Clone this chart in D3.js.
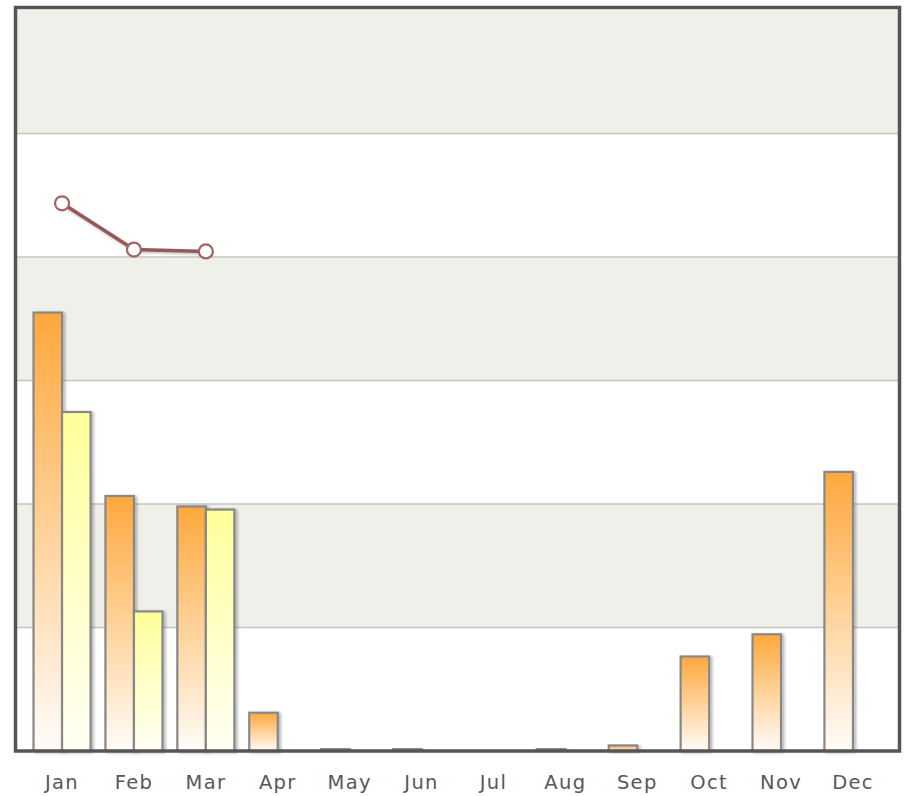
<!DOCTYPE html>
<html>
<head>
<meta charset="utf-8">
<script src="https://cdn.jsdelivr.net/npm/d3@7"></script>
<style>
  html, body { margin: 0; padding: 0; background: #ffffff; }
  svg { display: block; }
</style>
</head>
<body>
<svg id="chart" width="907" height="796"></svg>
<script>
// ---- data ----
const months = ["Jan","Feb","Mar","Apr","May","Jun","Jul","Aug","Sep","Oct","Nov","Dec"];
const seriesA = [71.0, 41.3, 39.6, 6.2, 0.3, 0.3, null, 0.3, 0.9, 15.3, 18.9, 45.2];   // orange bars
const seriesB = [54.9, 22.6, 39.1, null, null, null, null, null, null, null, null, null]; // yellow bars
const lineValues = [88.7, 81.2, 80.9, null, null, null, null, null, null, null, null, null];
const yTicks = [0, 20, 40, 60, 80, 100, 120];

// ---- layout ----
const svg = d3.select("#chart");
const pLeft = 16, pRight = 899, pTop = 10, pBottom = 751;

const x = d3.scaleBand().domain(months).range([pLeft, pRight]).paddingInner(0.207).paddingOuter(0.244);
const xSub = d3.scaleBand().domain(["a","b"]).range([0, x.bandwidth()]);
const y = d3.scaleLinear().domain([0, 120]).range([pBottom, pTop]);

const defs = svg.append("defs");
const gA = defs.append("linearGradient").attr("id","gradA").attr("x1",0).attr("y1",0).attr("x2",0).attr("y2",1);
gA.append("stop").attr("offset","0%").attr("stop-color","#ffa83c");
gA.append("stop").attr("offset","100%").attr("stop-color","#fffcf8");
const gB = defs.append("linearGradient").attr("id","gradB").attr("x1",0).attr("y1",0).attr("x2",0).attr("y2",1);
gB.append("stop").attr("offset","0%").attr("stop-color","#ffff99");
gB.append("stop").attr("offset","100%").attr("stop-color","#fffff4");
const sh = defs.append("filter").attr("id","shadow").attr("x","-20%").attr("y","-20%").attr("width","160%").attr("height","160%");
sh.append("feDropShadow").attr("dx",2).attr("dy",1).attr("stdDeviation",1.6).attr("flood-color","#000").attr("flood-opacity",0.3);
const sh2 = defs.append("filter").attr("id","lshadow").attr("x","-20%").attr("y","-50%").attr("width","140%").attr("height","200%");
sh2.append("feDropShadow").attr("dx",1).attr("dy",1.5).attr("stdDeviation",1.2).attr("flood-color","#000").attr("flood-opacity",0.25);

// background bands
const bands = d3.pairs(yTicks);
svg.append("g").selectAll("rect").data(bands).join("rect")
  .attr("x", pLeft).attr("width", pRight - pLeft)
  .attr("y", d => y(d[1])).attr("height", d => y(d[0]) - y(d[1]))
  .attr("fill", (d, i) => i % 2 === 0 ? "#ffffff" : "#f0f0ea");

// gridlines
svg.append("g").selectAll("line").data(yTicks.slice(1, -1)).join("line")
  .attr("x1", pLeft).attr("x2", pRight)
  .attr("y1", d => y(d)).attr("y2", d => y(d))
  .attr("stroke", "#c6c6be").attr("stroke-width", 1.5);

// bars
const barData = [];
months.forEach((m, i) => {
  if (seriesA[i] != null) barData.push({m, k:"a", v: seriesA[i]});
  if (seriesB[i] != null) barData.push({m, k:"b", v: seriesB[i]});
});
svg.append("g").selectAll("rect").data(barData).join("rect")
  .attr("x", d => x(d.m) + xSub(d.k))
  .attr("width", xSub.bandwidth())
  .attr("y", d => y(d.v))
  .attr("height", d => y(0) - y(d.v))
  .attr("fill", d => d.k === "a" ? "url(#gradA)" : "url(#gradB)")
  .attr("stroke", "#888888").attr("stroke-width", 2.2)
  .attr("filter", "url(#shadow)");

// line
const linePts = months.map((m, i) => ({m, v: lineValues[i]})).filter(d => d.v != null);
const cx = d => x(d.m) + x.bandwidth() / 2;
svg.append("path").datum(linePts)
  .attr("d", d3.line().x(cx).y(d => y(d.v)))
  .attr("fill", "none").attr("stroke", "#955858").attr("stroke-width", 3.5)
  .attr("filter", "url(#lshadow)");
svg.append("g").selectAll("circle").data(linePts).join("circle")
  .attr("cx", cx).attr("cy", d => y(d.v)).attr("r", 7)
  .attr("fill", "#ffffff").attr("stroke", "#a06464").attr("stroke-width", 2.2);

// frame
svg.append("rect").attr("x", pLeft - 0.5).attr("y", 7.5).attr("width", pRight - pLeft + 1).attr("height", pBottom - 7.5)
  .attr("fill", "none").attr("stroke", "#555555").attr("stroke-width", 3.5);

// x axis labels
const xAxis = d3.axisBottom(x).tickSize(0).tickPadding(0);
const ax = svg.append("g").attr("transform", `translate(0,${pBottom})`).call(xAxis);
ax.select(".domain").remove();
ax.selectAll("text")
  .attr("y", 38)
  .attr("dy", 0)
  .attr("fill", "#5a5560")
  .attr("font-family", "DejaVu Sans, Verdana, sans-serif")
  .attr("font-size", 19.5)
  .attr("letter-spacing", 1.3);
</script>
</body>
</html>
